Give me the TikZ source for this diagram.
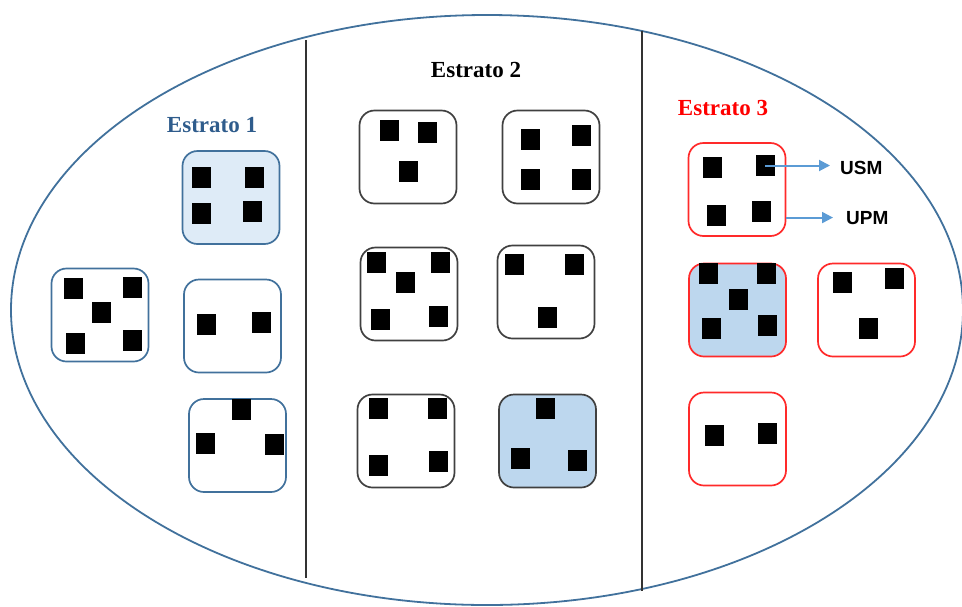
\documentclass[tikz,border=0pt]{standalone}
\usepackage{fontspec}
\setmainfont{Liberation Serif}
\newfontfamily\arial{Liberation Sans}
\usetikzlibrary{arrows.meta}
\definecolor{azulos}{HTML}{41719C}
\definecolor{azultit}{HTML}{2F5C8C}
\definecolor{celeste}{HTML}{DEEBF7}
\definecolor{azulrel}{HTML}{BDD7EE}
\definecolor{gris}{HTML}{404040}
\definecolor{rojo}{HTML}{FF2A2A}
\definecolor{flechaazul}{HTML}{5B9BD5}
\tikzset{
  upm/.style={rectangle, draw=azulos, line width=1.7pt, rounded corners=15pt,
              minimum width=97pt, minimum height=93pt, inner sep=0pt},
  usm/.style={rectangle, fill=black, minimum width=19pt, minimum height=21pt,
              inner sep=0pt},
  estrato/.style={font=\fontsize{23}{26}\selectfont\bfseries, anchor=base,
                  inner sep=0pt},
  etiq/.style={font=\arial\fontsize{19}{22}\selectfont\bfseries,
               anchor=base west, inner sep=3pt},
  flecha/.style={-{Triangle[length=11pt,width=11pt]}, line width=2pt,
                 draw=flechaazul, fill=flechaazul},
  division/.style={line width=1.5pt, draw=black!80}
}
\begin{document}
\begin{tikzpicture}[x=1pt,y=-1pt]
  \useasboundingbox (0,0) rectangle (962,606);
  % poblacion
  \draw[azulos, line width=1.8pt] (487,310) ellipse [x radius=476, y radius=295];
  \draw[division] (306,40) -- (306,578);
  \draw[division] (642,31) -- (642,591);
  % titulos
  \node[estrato, text=azultit] (t1) at (212,132) {Estrato 1};
  \node[estrato] (t2) at (476,77) {Estrato 2};
  \node[estrato, text=red] (t3) at (723,115) {Estrato 3};
  % estrato 1
  \node[upm, fill=celeste] (pa) at (231,197.5) {};
  \node[upm] (pb) at (100,315) {};
  \node[upm] (pc) at (232.5,326) {};
  \node[upm] (pd) at (237.5,445.5) {};
  \node[usm] (a1) at (201.5,177.5) {}; \node[usm] (a2) at (254,177.5) {};
  \node[usm] (a3) at (201.5,213) {}; \node[usm] (a4) at (252.5,211.5) {};
  \node[usm] (b1) at (73.5,288.5) {}; \node[usm] (b2) at (132.5,287.5) {};
  \node[usm] (b3) at (101.5,312) {}; \node[usm] (b4) at (75.5,343.5) {};
  \node[usm] (b5) at (132.5,340) {};
  \node[usm] (c1) at (206.5,324.5) {}; \node[usm] (c2) at (261.5,322.5) {};
  \node[usm] (d1) at (241.5,409) {}; \node[usm] (d2) at (205,443.5) {};
  \node[usm] (d3) at (274.5,444.5) {};
  % estrato 2
  \node[upm, draw=gris] (pe) at (408,157) {};
  \node[upm, draw=gris] (pf) at (551,157) {};
  \node[upm, draw=gris] (pg) at (409,294) {};
  \node[upm, draw=gris] (ph) at (546,292) {};
  \node[upm, draw=gris] (pi) at (406,441) {};
  \node[upm, draw=gris, fill=azulrel] (pj) at (547.5,441) {};
  \node[usm] (e1) at (389.5,130.5) {}; \node[usm] (e2) at (427.5,132.5) {};
  \node[usm] (e3) at (408.5,171) {};
  \node[usm] (f1) at (530,139) {}; \node[usm] (f2) at (581.5,135) {};
  \node[usm] (f3) at (530,179.5) {}; \node[usm] (f4) at (581.5,179.5) {};
  \node[usm] (g1) at (376.5,262.5) {}; \node[usm] (g2) at (440.5,262.5) {};
  \node[usm] (g3) at (405.5,282) {}; \node[usm] (g4) at (380.5,319) {};
  \node[usm] (g5) at (438,316) {};
  \node[usm] (h1) at (514,264.5) {}; \node[usm] (h2) at (574,264.5) {};
  \node[usm] (h3) at (547,317.5) {};
  \node[usm] (i1) at (378.5,408.5) {}; \node[usm] (i2) at (437.5,408.5) {};
  \node[usm] (i3) at (378.5,465.5) {}; \node[usm] (i4) at (438.5,461.5) {};
  \node[usm] (j1) at (545.5,408.5) {}; \node[usm] (j2) at (520,458.5) {};
  \node[usm] (j3) at (577.5,460) {};
  % estrato 3
  \node[upm, draw=rojo] (pk) at (737,189.5) {};
  \node[upm, draw=rojo, fill=azulrel] (pl) at (737.5,310) {};
  \node[upm, draw=rojo] (pm) at (866.5,310) {};
  \node[upm, draw=rojo] (pn) at (737.5,439) {};
  \node[usm] (k1) at (712.5,167.5) {}; \node[usm] (k2) at (765,165.5) {};
  \node[usm] (k3) at (716.5,215) {}; \node[usm] (k4) at (761.5,211.5) {};
  \node[usm] (l1) at (708,273) {}; \node[usm] (l2) at (766.5,273) {};
  \node[usm] (l3) at (738,299.5) {}; \node[usm] (l4) at (711,328) {};
  \node[usm] (l5) at (767.5,325.5) {};
  \node[usm] (m1) at (842.5,282) {}; \node[usm] (m2) at (894,278.5) {};
  \node[usm] (m3) at (868.5,328) {};
  \node[usm] (n1) at (714,435.5) {}; \node[usm] (n2) at (767.5,433.5) {};
  % leyenda
  \node[etiq] (usmtxt) at (837,174) {USM};
  \node[etiq] (upmtxt) at (843,224) {UPM};
  \draw[flecha, shorten >=7pt] (k2.center) -- (k2.center -| usmtxt.west);
  \draw[flecha, shorten >=10pt] (upmtxt.west -| pk.east) -- (upmtxt.west);
\end{tikzpicture}
\end{document}
